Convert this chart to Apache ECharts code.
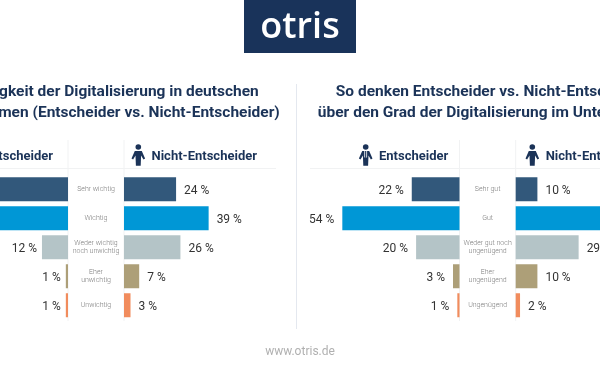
<!DOCTYPE html>
<html>
<head>
<meta charset="utf-8">
<style>
  html, body { margin: 0; padding: 0; background: #fff; }
  #chart { width: 600px; height: 375px; overflow: hidden; }
</style>
</head>
<body>
<div id="chart"></div>
<script src="https://cdn.jsdelivr.net/npm/echarts@6/dist/echarts.min.js"></script>
<script>
const wichtigCats = ['Sehr wichtig', 'Wichtig', 'Weder wichtig\nnoch unwichtig', 'Eher\nunwichtig', 'Unwichtig']
const gradCats = ['Sehr gut', 'Gut', 'Weder gut noch\nungenügend', 'Eher\nungenügend', 'Ungenügend']
// first two values of wichtigEntscheider and Gut of gradNicht are cut off in the picture, estimated
const wichtigEntscheider = [37, 49, 12, 1, 1]
const wichtigNicht = [24, 39, 26, 7, 3]
const gradEntscheider = [22, 54, 20, 3, 1]
const gradNicht = [10, 49, 29, 10, 2]
const rowColors = ['#32587b', '#0097d6', '#b4c4c7', '#ad9f78', '#f18c5d']

const navy = '#1b3358'
const font = 'Roboto'
const pxPerPercent = 2.17
const axisMax = 60
const gridTop = 174.75
const gridHeight = 145
const axisWidth = pxPerPercent * axisMax

// one butterfly: left bars end at leftEdge, right bars start at rightEdge
const panels = [
  { cats: wichtigCats, left: wichtigEntscheider, right: wichtigNicht, leftEdge: 68, rightEdge: 124, leftGap: 5 },
  { cats: gradCats, left: gradEntscheider, right: gradNicht, leftEdge: 459.5, rightEdge: 515.7, leftGap: 8 }
]

const grids = [], xAxes = [], yAxes = [], series = []
panels.forEach(p => {
  ;[true, false].forEach(isLeft => {
    const i = grids.length
    grids.push({
      left: isLeft ? p.leftEdge - axisWidth : p.rightEdge,
      top: gridTop,
      width: axisWidth,
      height: gridHeight,
      outerBoundsMode: 'none' // bars run off the page like in the picture
    })
    xAxes.push({ type: 'value', gridIndex: i, min: 0, max: axisMax, inverse: isLeft, show: false })
    yAxes.push({
      type: 'category',
      gridIndex: i,
      data: p.cats,
      inverse: true,
      axisLine: { show: false },
      axisTick: { show: false },
      splitLine: { show: false },
      axisLabel: {
        show: !isLeft,
        align: 'center',
        margin: (p.rightEdge - p.leftEdge) / 2,
        color: '#7c7c7c',
        fontFamily: font,
        fontWeight: 300,
        fontSize: 7,
        lineHeight: 8,
        padding: [3, 0, 0, 0]
      }
    })
    series.push({
      type: 'bar',
      xAxisIndex: i,
      yAxisIndex: i,
      barWidth: 24,
      data: (isLeft ? p.left : p.right).map((v, k) => ({ value: v, itemStyle: { color: rowColors[k] } })),
      label: {
        show: true,
        position: isLeft ? 'left' : 'right',
        distance: isLeft ? p.leftGap : 8,
        offset: [0, 2],
        formatter: '{c} %',
        color: '#333',
        fontFamily: font,
        fontSize: 12
      },
      silent: true,
      animation: false
    })
  })
})

function vline(x, y1, y2, color) {
  return { type: 'line', shape: { x1: x, y1: y1, x2: x, y2: y2 }, style: { stroke: color, lineWidth: 1 }, silent: true }
}
function hline(x1, x2, y, color) {
  return { type: 'line', shape: { x1: x1, y1: y, x2: x2, y2: y }, style: { stroke: color, lineWidth: 1 }, silent: true }
}
function person(x, withTie) {
  const children = [
    { type: 'circle', shape: { cx: 0, cy: 3, r: 2.8 }, style: { fill: navy } },
    { type: 'polygon', shape: { points: [[-3.5, 7], [3.5, 7], [6.8, 14.5], [5.2, 15.5], [2.8, 11.5], [2.4, 21.7], [-2.4, 21.7], [-2.8, 11.5], [-5.2, 15.5], [-6.8, 14.5]] }, style: { fill: navy } }
  ]
  if (withTie) {
    children.push({ type: 'polygon', shape: { points: [[-1.4, 7], [-0.6, 7], [-0.6, 14], [-1.4, 13]] }, style: { fill: '#fff' } })
    children.push({ type: 'polygon', shape: { points: [[1.4, 7], [0.6, 7], [0.6, 14], [1.4, 13]] }, style: { fill: '#fff' } })
  }
  return { type: 'group', x: x, y: 144, silent: true, children: children }
}
function headerText(text, x, align) {
  return {
    type: 'text', x: x, y: 157, silent: true,
    style: { text: text, fill: navy, font: '700 13px ' + font, align: align, verticalAlign: 'middle' }
  }
}

const lineColor = '#f1f2f3'
const chart = echarts.init(document.getElementById('chart'), null, { renderer: 'canvas' })
chart.setOption({
  animation: false,
  backgroundColor: '#fff',
  title: [
    {
      text: 'Wichtigkeit der Digitalisierung in deutschen\nUnternehmen (Entscheider vs. Nicht-Entscheider)',
      left: 102, top: 76.5, textAlign: 'center',
      textStyle: { color: navy, fontFamily: font, fontWeight: 700, fontSize: 15.5, lineHeight: 21 }
    },
    {
      text: 'So denken Entscheider vs. Nicht-Entscheider\nüber den Grad der Digitalisierung im Unternehmen',
      left: 487.5, top: 76.5, textAlign: 'center',
      textStyle: { color: navy, fontFamily: font, fontWeight: 700, fontSize: 15.5, lineHeight: 21 }
    }
  ],
  grid: grids,
  xAxis: xAxes,
  yAxis: yAxes,
  series: series,
  graphic: { elements: [
    { type: 'rect', shape: { x: 244, y: 0, width: 112, height: 53 }, style: { fill: '#19335a' }, silent: true },
    { type: 'text', x: 300, y: 28, silent: true, style: { text: 'otris', fill: '#fff', font: '600 36px "Open Sans"', align: 'center', verticalAlign: 'middle' } },
    vline(296.5, 84, 329, '#e4e8ef'),
    vline(68, 140, 321, lineColor), vline(124, 140, 321, lineColor),
    vline(459.5, 140, 321, lineColor), vline(515.7, 140, 321, lineColor),
    hline(0, 276, 168.5, lineColor), hline(310, 600, 168.5, lineColor),
    person(-28, true), person(138.3, false), person(365.7, true), person(532.3, false),
    headerText('Entscheider', 53, 'right'), headerText('Nicht-Entscheider', 151.5, 'left'),
    headerText('Entscheider', 379, 'left'), headerText('Nicht-Entscheider', 545.7, 'left'),
    { type: 'text', x: 300, y: 352, silent: true, style: { text: 'www.otris.de', fill: '#b0b0b0', font: '12px ' + font, align: 'center', verticalAlign: 'middle' } }
  ] }
})
</script>
</body>
</html>
